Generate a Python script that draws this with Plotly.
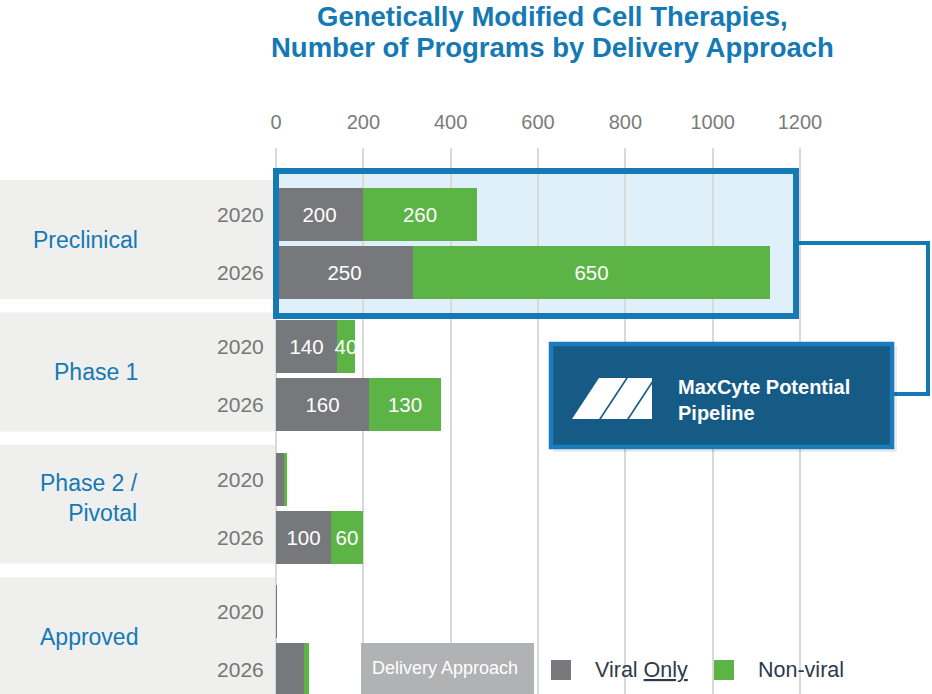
import plotly.graph_objects as go

# ---------------- data ----------------
stages = ["Preclinical", "Phase 1", "Phase 2 /<br>Pivotal", "Approved"]
years = ["2020", "2026"]
# bar lengths as drawn in the picture (stage-major, year-minor)
viral_values = [200, 313, 140, 214, 18, 126, 2, 63]
nonviral_values = [260, 818, 40, 163, 8, 74, 0, 13]
# numbers printed on the bars
viral_labels = ["200", "250", "140", "160", "", "100", "", ""]
nonviral_labels = ["260", "650", "40", "130", "", "60", "", ""]
x_ticks = [0, 200, 400, 600, 800, 1000, 1200]

title_lines = ["Genetically Modified Cell Therapies,",
               "Number of Programs by Delivery Approach"]
series_names = ["Viral Only", "Non-viral"]

# ---------------- styling / layout constants ----------------
W, H = 932, 694
TOP = 148                      # plot-area top in px
X0 = 276                       # px position of value 0
K = 524 / 1200                 # px per unit
GROUP_PITCH = 132.4
YEAR_STEP = 58
FIRST = 66.5
BAR_W = 53

BLUE = "#1479b4"
GRAY_BAR = "#77787b"
GREEN = "#5cb447"
PANEL = "#efefed"
LIGHT = "#dff0fa"
DARK = "#155b86"
TICK_COL = "#7b7b7b"
FONT = "Liberation Sans, Arial, sans-serif"


def xd(px):
    return (px - X0) / K


def yd(py):
    return py - TOP


def yp(py):  # paper y from px
    return (H - py) / (H - TOP)


ypos = []
ylab = []
for g in range(len(stages)):
    for j, yr in enumerate(years):
        ypos.append(FIRST + GROUP_PITCH * g + YEAR_STEP * j)
        ylab.append(yr)

fig = go.Figure()
fig.add_trace(go.Bar(
    y=ypos, x=viral_values, orientation="h", width=BAR_W, name=series_names[0],
    marker=dict(color=GRAY_BAR, line=dict(width=0)),
    text=viral_labels, textposition="inside", insidetextanchor="middle",
    textfont=dict(color="white", size=20.5, family=FONT), hoverinfo="skip"))
fig.add_trace(go.Bar(
    y=ypos, x=nonviral_values, orientation="h", width=BAR_W, name=series_names[1],
    marker=dict(color=GREEN, line=dict(width=0)),
    text=nonviral_labels, textposition="inside", insidetextanchor="middle",
    textfont=dict(color="white", size=20.5, family=FONT), hoverinfo="skip"))

shapes = []
annotations = []

# gray stage panels
for g in range(len(stages)):
    y_top = ypos[2 * g] - BAR_W / 2 - 8
    y_bot = ypos[2 * g + 1] + BAR_W / 2
    shapes.append(dict(type="rect", xref="x", yref="y", x0=xd(0), x1=xd(X0 - 1),
                       y0=y_top, y1=y_bot, fillcolor=PANEL, line=dict(width=0), layer="below"))
    lines = stages[g].count("<br>") + 1
    annotations.append(dict(xref="x", yref="y", x=xd(140), y=(y_top + y_bot) / 2,
                            yshift=0 if lines == 1 else 6,
                            text=stages[g], showarrow=False, xanchor="right", align="right",
                            font=dict(color=BLUE, size=23, family=FONT)))

# highlight box (fill below grid, border above bars)
shapes.append(dict(type="rect", xref="x", yref="y", x0=xd(276), x1=xd(796),
                   y0=yd(171), y1=yd(316), fillcolor=LIGHT, line=dict(width=0), layer="below"))
shapes.append(dict(type="rect", xref="x", yref="y", x0=xd(276), x1=xd(796),
                   y0=yd(171), y1=yd(316), fillcolor="rgba(0,0,0,0)",
                   line=dict(color=BLUE, width=6), layer="above"))
# connector
shapes.append(dict(type="path", xref="x", yref="y",
                   path=f"M {xd(799)} {yd(243)} L {xd(928)} {yd(243)} L {xd(928)} {yd(394)} L {xd(893)} {yd(394)}",
                   line=dict(color=BLUE, width=4), layer="above"))
# MaxCyte box shadow + box
shapes.append(dict(type="rect", xref="x", yref="y", x0=xd(553), x1=xd(897),
                   y0=yd(346), y1=yd(452), fillcolor="rgba(0,0,0,0.08)", line=dict(width=0), layer="above"))
shapes.append(dict(type="rect", xref="x", yref="y", x0=xd(551), x1=xd(892),
                   y0=yd(344), y1=yd(447), fillcolor=DARK,
                   line=dict(color="#1b7cbd", width=4.5), layer="above"))
# logo pieces
logo_pieces = [
    [(572, 419), (599, 419), (626, 378), (599, 378)],
    [(601, 419), (627, 419), (652, 381), (652, 378), (628, 378)],
    [(629, 419), (652, 419), (652, 384)],
]
for pts in logo_pieces:
    p = "M " + " L ".join(f"{xd(a)} {yd(b)}" for a, b in pts) + " Z"
    shapes.append(dict(type="path", xref="x", yref="y", path=p, fillcolor="white",
                       line=dict(width=0), layer="above"))
annotations.append(dict(xref="x", yref="y", x=xd(676), y=yd(400), text="MaxCyte Potential<br>Pipeline",
                        showarrow=False, xanchor="left", align="left",
                        font=dict(color="white", size=20, family=FONT, weight="bold")))

# legend
shapes.append(dict(type="rect", xref="x", yref="y", x0=xd(361), x1=xd(534), y0=yd(643), y1=yd(700),
                   fillcolor="#b1b2b4", line=dict(width=0), layer="above"))
annotations.append(dict(xref="x", yref="y", x=xd(445), y=yd(668), text="Delivery Approach",
                        showarrow=False, font=dict(color="white", size=18, family=FONT)))
legend_items = [(551, GRAY_BAR, 593, "Viral <u>Only</u>"), (714, GREEN, 756, "Non-viral")]
for sx, col, tx, txt in legend_items:
    shapes.append(dict(type="rect", xref="x", yref="y", x0=xd(sx), x1=xd(sx + 20), y0=yd(660), y1=yd(680),
                       fillcolor=col, line=dict(width=0), layer="above"))
    annotations.append(dict(xref="x", yref="y", x=xd(tx), y=yd(670), text=txt, showarrow=False,
                            xanchor="left", font=dict(color="#2e3a4c", size=21.5, family=FONT)))

# title
for i, line in enumerate(title_lines):
    annotations.append(dict(xref="x", yref="paper", x=xd(552), y=yp(17 + 30.5 * i), text=line,
                            showarrow=False, xanchor="center", yanchor="middle",
                            font=dict(color=BLUE, size=27.5, family=FONT, weight="bold")))

fig.update_layout(
    width=W, height=H, margin=dict(l=0, r=0, t=TOP, b=0),
    paper_bgcolor="white", plot_bgcolor="white",
    barmode="stack", showlegend=False, bargap=0,
    uniformtext=dict(minsize=20.5, mode="show"),
    xaxis=dict(side="top", range=[xd(0), xd(W)], tickvals=x_ticks, ticktext=[str(v) for v in x_ticks],
               showgrid=True, gridcolor="#d9d9d9", gridwidth=1.5, zeroline=False,
               ticks="outside", ticklen=10, tickcolor="rgba(0,0,0,0)", showline=False,
               tickfont=dict(color=TICK_COL, size=20, family=FONT)),
    yaxis=dict(range=[H - TOP, 0], tickvals=ypos, ticktext=ylab, anchor="free", position=X0 / W,
               showgrid=False, zeroline=False, showline=False,
               ticks="outside", ticklen=8, tickcolor="rgba(0,0,0,0)",
               tickfont=dict(color="#767676", size=21, family=FONT)),
    shapes=shapes, annotations=annotations,
)

fig.write_html("out.html", config={"displayModeBar": False},
               post_script="document.body.style.margin='0';")
